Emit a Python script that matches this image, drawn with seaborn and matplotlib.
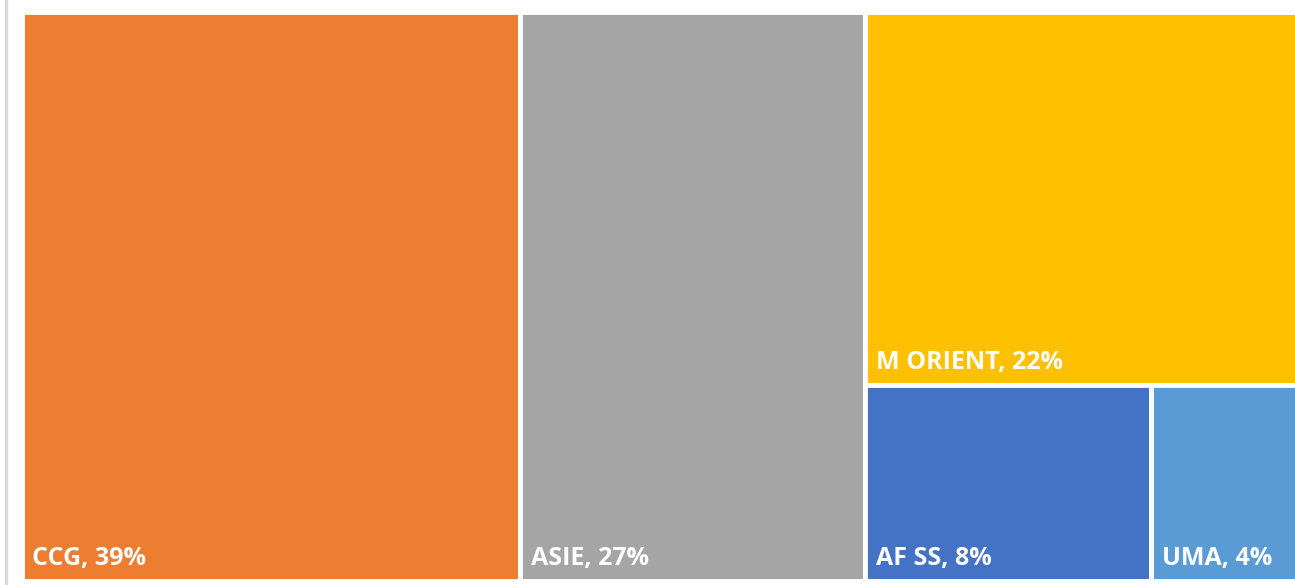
import matplotlib
matplotlib.use("Agg")
import matplotlib.pyplot as plt
from matplotlib.patches import Rectangle
import seaborn as sns

labels = ["CCG", "ASIE", "M ORIENT", "AF SS", "UMA"]
values = [39.0, 27.0, 22.3, 7.7, 4.0]
colors = ["#ED7D31", "#A5A5A5", "#FFC000", "#4472C4", "#5B9BD5"]

sns.set_theme(style="white")
plt.rcParams["font.family"] = ["Open Sans", "DejaVu Sans"]

W, H = 1295, 585
fig = plt.figure(figsize=(W / 100, H / 100), dpi=100)
ax = fig.add_axes([0, 0, 1, 1])
ax.set_xlim(0, W)
ax.set_ylim(H, 0)
ax.axis("off")

# plotting area of the treemap (right side runs off the picture)
x0, y0, x1, y1 = 21.5, 11.5, 1300, 581
total = sum(values)
tw, th = x1 - x0, y1 - y0

rects = []
# first two items as full-height columns
cx = x0
for i in range(2):
    w = tw * values[i] / total
    rects.append((cx, y0, w, th))
    cx += w
# remaining column: top item, then a row of the rest
rest = sum(values[2:])
colw = tw * rest / total
h_top = th * values[2] / rest
rects.append((cx, y0, colw, h_top))
bx = cx
bottom = sum(values[3:])
for i in range(3, 5):
    w = colw * values[i] / bottom
    rects.append((bx, y0 + h_top, w, th - h_top))
    bx += w

for (x, y, w, h), lab, v, c in zip(rects, labels, values, colors):
    ax.add_patch(Rectangle((x, y), w, h, facecolor=c, edgecolor="white", linewidth=3.5))
    ax.text(x + 11, y + h - 16, f"{lab}, {round(v)}%", color="white", fontsize=18,
            fontweight="bold", ha="left", va="baseline")

ax.plot([6, 6], [0, H], color="#d9d9d9", linewidth=2.5)

fig.savefig("out.png", dpi=100)
